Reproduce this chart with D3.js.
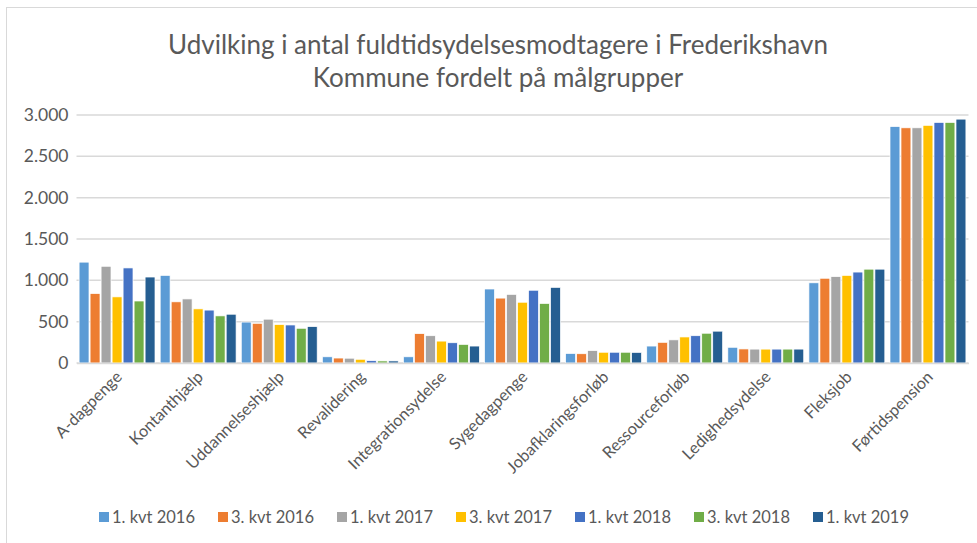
<!DOCTYPE html>
<html><head><meta charset="utf-8">
<script src="https://cdn.jsdelivr.net/npm/d3@7"></script>
<style>body{margin:0;background:#fff}svg{display:block}text{font-family:Lato,"Open Sans",sans-serif;fill:#595959}</style>
</head><body><div id="chart"></div>
<script>
const categories = ["A-dagpenge","Kontanthjælp","Uddannelseshjælp","Revalidering","Integrationsydelse","Sygedagpenge","Jobafklaringsforløb","Ressourceforløb","Ledighedsydelse","Fleksjob","Førtidspension"];
const seriesNames = ["1. kvt 2016","3. kvt 2016","1. kvt 2017","3. kvt 2017","1. kvt 2018","3. kvt 2018","1. kvt 2019"];
const s2016q1 = [1220,1060,495,75,75,895,115,205,190,970,2860];
const s2016q3 = [840,740,480,60,355,785,112,250,170,1025,2845];
const s2017q1 = [1170,775,530,58,330,830,150,280,168,1045,2845];
const s2017q3 = [800,655,465,45,265,735,130,315,168,1060,2875];
const s2018q1 = [1150,640,460,28,245,880,130,330,168,1100,2910];
const s2018q3 = [750,570,420,25,225,720,130,360,168,1135,2910];
const s2019q1 = [1040,590,440,25,205,915,128,385,168,1135,2950];
const seriesValues = [s2016q1,s2016q3,s2017q1,s2017q3,s2018q1,s2018q3,s2019q1];
const colors = ["#5b9bd5","#ed7d31","#a5a5a5","#ffc000","#4472c4","#70ad47","#255e91"];
const yTicks = [0,500,1000,1500,2000,2500,3000];
const titleLines = ["Udvilking i antal fuldtidsydelsesmodtagere i Frederikshavn","Kommune fordelt på målgrupper"];

const W=977,H=543;
const svg=d3.select("#chart").append("svg").attr("width",W).attr("height",H);
svg.append("rect").attr("x",6.5).attr("y",7.5).attr("width",W+10).attr("height",H+10).attr("fill","#fff").attr("stroke","#d9d9d9");
const m={left:76.5,right:968.5,top:115,bottom:363};
const x=d3.scaleBand().domain(categories).range([m.left,m.right]).paddingInner(0.064).paddingOuter(0.032);
const xs=d3.scaleBand().domain(seriesNames).range([0,x.bandwidth()]).paddingInner(0.1);
const y=d3.scaleLinear().domain([0,3000]).range([m.bottom,m.top]);
const fmt=d=>d3.format(",")(d).replace(/,/g,".");

svg.append("g").selectAll("line").data(yTicks).join("line")
 .attr("x1",m.left).attr("x2",m.right).attr("y1",d=>y(d)).attr("y2",d=>y(d))
 .attr("stroke","#d9d9d9").attr("stroke-width",1.5);
const ya=svg.append("g").attr("transform",`translate(${m.left},0)`).call(d3.axisLeft(y).tickValues(yTicks).tickFormat(fmt).tickSize(0).tickPadding(8));
ya.select(".domain").remove();
ya.selectAll("text").attr("font-size",17.5).attr("fill","#595959").style("font-family","Lato,sans-serif");

seriesValues.forEach((vals,i)=>{
 svg.append("g").selectAll("rect").data(vals).join("rect")
  .attr("x",(d,j)=>x(categories[j])+xs(seriesNames[i]))
  .attr("width",xs.bandwidth())
  .attr("y",d=>y(d)).attr("height",d=>y(0)-y(d))
  .attr("fill",colors[i]).attr("stroke","#fff").attr("stroke-width",0.7);
});

const xa=svg.append("g").attr("transform",`translate(0,${m.bottom})`).call(d3.axisBottom(x).tickSize(0).tickPadding(0));
xa.select(".domain").attr("stroke","#d9d9d9").attr("stroke-width",1.5);
xa.selectAll("text").attr("font-size",16.3).attr("fill","#595959").style("font-family","Lato,sans-serif")
 .attr("text-anchor","end").attr("dy",0).attr("transform","translate(6,15) rotate(-45)");

svg.append("g").selectAll("text").data(titleLines).join("text")
 .attr("x",498).attr("y",(d,i)=>54+i*33).attr("text-anchor","middle").attr("font-size",26).text(d=>d);

const lg=svg.append("g").attr("transform","translate(99,512)");
seriesNames.forEach((n,i)=>{
 const g=lg.append("g").attr("transform",`translate(${i*119},0)`);
 g.append("rect").attr("width",10).attr("height",10).attr("fill",colors[i]);
 g.append("text").attr("x",13).attr("y",11).attr("font-size",16.5).text(n);
});
</script></body></html>
